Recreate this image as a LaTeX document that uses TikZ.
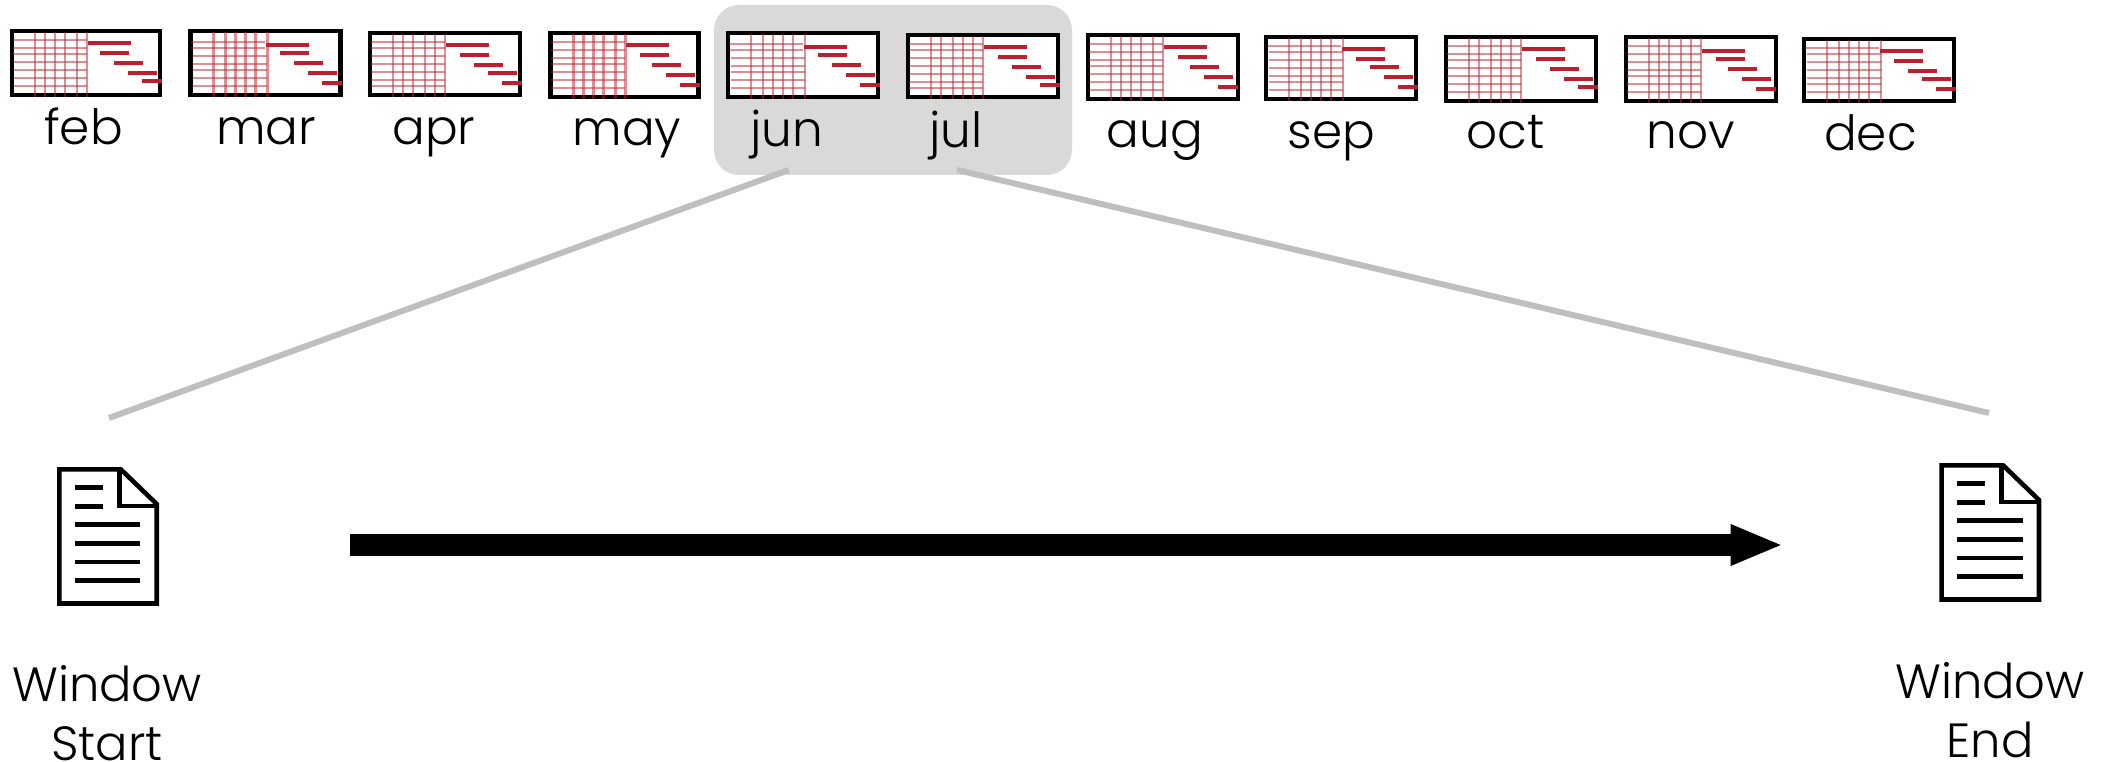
\documentclass[tikz,border=0pt]{standalone}
\usepackage{fontspec}
\setmainfont{Poppins}[UprightFont=* Light]
\usetikzlibrary{arrows.meta}
\definecolor{ganttred}{HTML}{BE1E2D}
\definecolor{panelgray}{HTML}{D9D9D9}
\definecolor{linegray}{HTML}{BFBFBF}
\tikzset{
  thumbbox/.style={draw=black,fill=white,line width=4.5pt,anchor=north west,outer sep=0pt,inner sep=0pt},
  gridline/.style={draw=ganttred,line width=2.4pt,opacity=0.5},
  ganttbar/.style={draw=ganttred,line width=4.5pt},
  month/.style={anchor=base,inner sep=0pt,font=\fontsize{48.5}{56}\selectfont},
  winlabel/.style={anchor=base,inner sep=0pt,align=center,font=\fontsize{48}{59}\selectfont},
  docline/.style={draw=black,line width=4.6pt,line join=miter},
  zoomline/.style={draw=linegray,line width=6pt},
}
% name, x, y, width, height, hlines (y/start), vlines, bars (start/y/length)
\newcommand{\thumb}[8]{%
  \node[thumbbox,minimum width=#4pt-4pt,minimum height=#5pt-4pt] (box#1) at (#2+2,#3+2) {};
  \begin{scope}[shift={(#2,#3)}]
    \foreach \yy/\aa in {#6} \draw[gridline] (\aa,\yy) -- ++(74,0);
    \foreach \xx in {#7} \draw[gridline] (\xx,3) -- (\xx,#5);
    \foreach \ss/\yy/\ll in {#8} \draw[ganttbar] (\ss,\yy) -- ++(\ll,0);
  \end{scope}}
\newcommand{\docicon}[3]{%
  \begin{scope}[shift={(#2,#3)}]
    \coordinate (#1) at (0,0);
    \draw[docline] (59.3,469.3) -- (120.7,469.3) -- (156.7,504) -- (156.7,603.5) -- (59.3,603.5) -- cycle;
    \draw[docline] (119.3,469.3) -- (119.3,506) -- (156.7,506);
    \foreach \yy in {487.7,506.3} \draw[docline] (75,\yy) -- (103,\yy);
    \foreach \yy in {524.7,543.3,562,580.3} \draw[docline] (75,\yy) -- (140.3,\yy);
  \end{scope}}
\begin{document}
\begin{tikzpicture}[x=1pt,y=-1pt]
\useasboundingbox (0,0) rectangle (2105,762);
\fill[panelgray,rounded corners=25pt] (714,5) rectangle (1072,175);
\thumb{feb}{10}{29}{152}{68}{11/3,19/3,25/3,33/3,41/3,49/3,57/3}{25,35,45,55,67,77}{78/14/43,90/24/29,104/34/29,118/44/29,132/52/20}
\thumb{mar}{188.3}{29}{154}{68}{13/3,19/3,27/5,35/5,41/5,49/5,57/5}{25,37,47,57,67,79}{78/16/43,92/24/29,106/34/29,120/44/29,134/54/20}
\thumb{apr}{368}{31}{154}{66}{11/3,17/3,25/3,33/3,41/3,49/3,55/3}{25,35,45,57,67,77}{78/14/43,92/24/29,106/34/29,120/42/29,134/52/20}
\thumb{may}{548.3}{31}{152}{68}{11/3,19/3,27/3,33/3,41/3,49/3,57/3}{25,35,45,55,67,77}{78/14/43,92/24/29,104/34/29,118/44/29,132/54/20}
\thumb{jun}{726}{31}{154}{68}{13/3,19/3,27/5,35/5,41/5,49/5,57/5}{25,37,47,57,67,79}{78/16/43,92/24/29,106/34/29,120/44/29,134/54/20}
\thumb{jul}{906}{33}{154}{66}{11/3,17/3,25/3,33/3,41/3,49/3,55/3}{25,35,47,57,67,77}{78/14/43,92/24/29,106/34/29,120/44/29,134/52/20}
\thumb{aug}{1086}{33}{154}{68}{11/3,19/3,27/3,33/3,41/3,49/3,57/3}{25,35,45,55,67,77}{78/14/43,92/24/29,104/34/29,118/44/29,132/54/20}
\thumb{sep}{1264}{35}{154}{66}{11/3,17/5,25/5,33/5,41/5,47/5,55/5}{25,37,47,57,67,79}{78/14/43,92/24/29,106/32/29,120/42/29,134/52/20}
\thumb{oct}{1444}{35}{154}{68}{11/3,19/3,25/3,33/3,41/3,49/3,57/3}{25,35,47,57,67,77}{78/14/43,92/24/29,106/34/29,120/44/29,134/52/20}
\thumb{nov}{1624}{35}{154}{68}{11/3,19/3,27/3,35/3,41/3,49/3,57/3}{25,35,45,57,67,77}{78/16/43,92/24/29,104/34/29,118/44/29,132/54/20}
\thumb{dec}{1802}{37}{154}{66}{11/3,17/5,25/5,33/5,41/5,47/5,55/5}{25,37,47,57,67,79}{78/14/43,92/24/29,106/34/29,120/42/29,134/52/20}
\node[month] (lfeb) at (83.5,145) {feb};
\node[month] (lmar) at (266,145) {mar};
\node[month] (lapr) at (434,145) {apr};
\node[month] (lmay) at (627,146) {may};
\node[month] (ljun) at (786.5,147) {jun};
\node[month] (ljul) at (956,148) {jul};
\node[month] (laug) at (1155,148) {aug};
\node[month] (lsep) at (1331.5,149) {sep};
\node[month] (loct) at (1505.5,149) {oct};
\node[month] (lnov) at (1690.5,149) {nov};
\node[month] (ldec) at (1870.5,151) {dec};
\coordinate (zoomA) at (788.7,170);
\coordinate (zoomB) at (957,170);
\coordinate (startTop) at (109,418);
\coordinate (endTop) at (1989,413);
\draw[zoomline] (zoomA) -- (startTop);
\draw[zoomline] (zoomB) -- (endTop);
\docicon{docStart}{0}{0}
\docicon{docEnd}{1882.3}{-4}
\coordinate (arrowA) at (350,545);
\coordinate (arrowB) at (1780.7,545);
\draw[line width=22pt,-{Triangle[length=50pt,width=42pt,line width=0pt]}] (arrowA) -- (arrowB);
\node[winlabel] (lstart) at (107,760.5) {Window\\Start};
\node[winlabel] (lend) at (1990,757.5) {Window\\End};
\end{tikzpicture}
\end{document}
